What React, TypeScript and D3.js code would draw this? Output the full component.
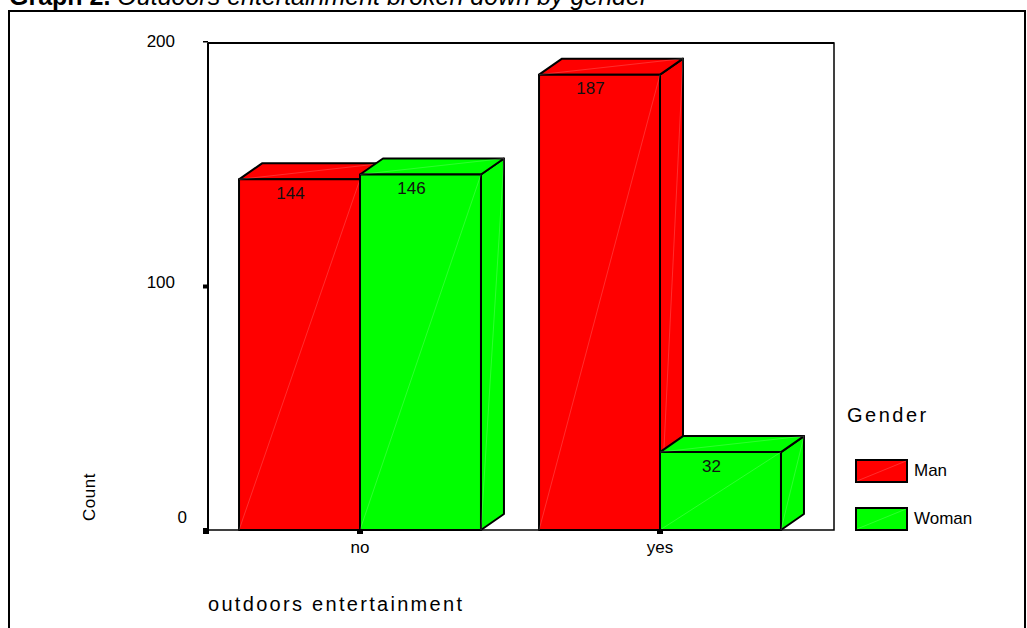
import * as React from 'react';
import * as d3 from 'd3';

// chart data
const categories = ['no', 'yes'];
const seriesNames = ['Man', 'Woman'];
const manCounts = [144, 187];
const womanCounts = [146, 32];
const yTicks = [0, 100, 200];

const COLORS: Record<string, string> = {
  Man: '#FF0000',
  Woman: '#00FF00',
};

const FONT = '"Liberation Sans", Arial, sans-serif';
const DX = 23; // depth offset of the 3D bars
const DY = -16;

export default function App() {
  const W = 1027;
  const H = 628;
  const left = 208;
  const right = 834;
  const top = 43;
  const bottom = 530;

  const y = d3.scaleLinear().domain([0, 200]).range([bottom, top]);
  const x0 = d3.scaleBand<string>().domain(categories).range([210, 810]);
  const x1 = d3
    .scaleBand<string>()
    .domain(seriesNames)
    .range([0, x0.bandwidth()])
    .paddingInner(0)
    .paddingOuter(0.24);

  const values: Record<string, number[]> = { Man: manCounts, Woman: womanCounts };

  const bars: { cat: string; s: string; v: number; x: number; w: number }[] = [];
  categories.forEach((cat, i) => {
    seriesNames.forEach((s) => {
      bars.push({ cat, s, v: values[s][i], x: (x0(cat) ?? 0) + (x1(s) ?? 0), w: x1.bandwidth() });
    });
  });

  const pts = (arr: number[][]) => arr.map((p) => p.join(',')).join(' ');
  const hl = 'rgba(255,255,255,0.3)';

  return (
    <svg
      width={W}
      height={H}
      style={{ position: 'absolute', left: 0, top: 0, background: '#fff' }}
      fontFamily={FONT}
    >
      {/* title, cut at the top */}
      <text x={9} y={5} fontSize={25} fill="#000">
        <tspan fontWeight="bold">Graph 2.</tspan>
        <tspan fontStyle="italic"> Outdoors entertainment broken down by gender</tspan>
      </text>

      {/* outer frame */}
      <rect x={9} y={11} width={1016} height={640} fill="none" stroke="#000" strokeWidth={2} />

      {/* plot frame */}
      <rect x={left} y={top} width={right - left} height={bottom - top} fill="#fff" stroke="#000" strokeWidth={1.5} />
      <line x1={left} x2={left} y1={top} y2={bottom} stroke="#000" strokeWidth={2} />
      <line x1={left} x2={right} y1={top} y2={top} stroke="#000" strokeWidth={2} />

      {/* y ticks */}
      {yTicks.map((t) => (
        <g key={t}>
          <rect x={left - 5} y={y(t) - 2} width={5} height={t === 200 ? 1.5 : 4} fill="#000" />
          <text
            x={t === 0 ? 187 : 175}
            y={y(t) + (t === 0 ? -11 : t === 100 ? -3 : 0)}
            fontSize={17}
            textAnchor="end"
            dominantBaseline="middle"
            fill="#000"
          >
            {t}
          </text>
        </g>
      ))}

      {/* bars */}
      {bars.map((b, i) => {
        const x = b.x;
        const w = b.w;
        const yt = y(b.v);
        const c = COLORS[b.s];
        const front = [[x, bottom], [x, yt], [x + w, yt], [x + w, bottom]];
        const topFace = [[x, yt], [x + DX, yt + DY], [x + w + DX, yt + DY], [x + w, yt]];
        const side = [[x + w, bottom], [x + w, yt], [x + w + DX, yt + DY], [x + w + DX, bottom + DY]];
        return (
          <g key={i}>
            <polygon points={pts(side)} fill={c} stroke="#000" strokeWidth={2} strokeLinejoin="round" />
            <polygon points={pts(topFace)} fill={c} stroke="#000" strokeWidth={2} strokeLinejoin="round" />
            <polygon points={pts(front)} fill={c} stroke="#000" strokeWidth={2} strokeLinejoin="round" />
            <line x1={x} y1={bottom} x2={x + w} y2={yt} stroke={hl} strokeWidth={0.6} />
            <line x1={x + w} y1={bottom} x2={x + w + DX} y2={yt + DY} stroke={hl} strokeWidth={0.6} />
            <line x1={x} y1={yt} x2={x + w + DX} y2={yt + DY} stroke={hl} strokeWidth={0.6} />
            <text
              x={x + w / 2 - 9}
              y={yt + 15}
              fontSize={17}
              textAnchor="middle"
              dominantBaseline="middle"
              fill="#111"
            >
              {b.v}
            </text>
          </g>
        );
      })}

      {/* x ticks and labels */}
      {categories.map((cat) => {
        const cx = (x0(cat) ?? 0) + x0.bandwidth() / 2;
        return (
          <g key={cat}>
            <rect x={cx - 3} y={bottom - 1} width={6} height={5} fill="#000" />
            <text x={cx} y={549} fontSize={17} textAnchor="middle" dominantBaseline="middle" fill="#000">
              {cat}
            </text>
          </g>
        );
      })}
      <rect x={left - 5} y={bottom - 1} width={6} height={5} fill="#000" />

      {/* axis titles */}
      <text x={208} y={606} fontSize={20} letterSpacing={2.3} dominantBaseline="middle" fill="#000">
        outdoors entertainment
      </text>
      <text
        transform="translate(91,497) rotate(-90)"
        fontSize={17}
        letterSpacing={0.5}
        textAnchor="middle"
        dominantBaseline="middle"
        fill="#000"
      >
        Count
      </text>

      {/* legend */}
      <text x={847} y={417} fontSize={20} letterSpacing={2.5} dominantBaseline="middle" fill="#000">
        Gender
      </text>
      {seriesNames.map((s, i) => {
        const ly = 460 + i * 48;
        return (
          <g key={s}>
            <rect x={856} y={ly} width={51} height={22} fill={COLORS[s]} stroke="#000" strokeWidth={2} />
            <line x1={857} y1={ly + 21} x2={906} y2={ly + 1} stroke={hl} strokeWidth={0.6} />
            <text x={914} y={ly + 12} fontSize={17} dominantBaseline="middle" fill="#000">
              {s}
            </text>
          </g>
        );
      })}
    </svg>
  );
}
